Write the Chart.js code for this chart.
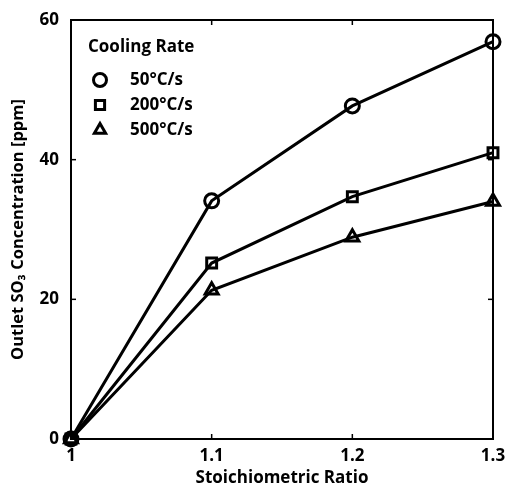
<!DOCTYPE html>
<html>
<head>
<meta charset="utf-8">
<script src="https://cdn.jsdelivr.net/npm/chart.js@4"></script>
<style>
  html, body { margin: 0; padding: 0; background: #fff; }
  #wrap { width: 508px; height: 494px; }
</style>
</head>
<body>
<div id="wrap"><canvas id="c"></canvas></div>
<script>
// data
const ratios = [1.0, 1.1, 1.2, 1.3];
const rate50 = [0, 34.1, 47.7, 56.9];
const rate200 = [0, 25.2, 34.7, 41.0];
const rate500 = [0, 21.3, 28.9, 34.0];
const xTicks = [1, 1.1, 1.2, 1.3];
const yTicks = [0, 20, 40, 60];

const FONT = "'Open Sans', 'Noto Sans', sans-serif";

function pts(ys) {
  return ratios.map((x, i) => ({ x: x, y: ys[i] }));
}

// frame, inward ticks and legend inside the plot
const framePlugin = {
  id: "frame",
  afterDraw(chart) {
    const { ctx, chartArea: a, scales } = chart;
    ctx.save();
    ctx.strokeStyle = "#000";
    ctx.lineWidth = 2;
    ctx.strokeRect(a.left, a.top, a.right - a.left, a.bottom - a.top);
    ctx.lineWidth = 1.5;
    xTicks.forEach(v => {
      const px = scales.x.getPixelForValue(v);
      ctx.beginPath(); ctx.moveTo(px, a.bottom); ctx.lineTo(px, a.bottom - 5); ctx.stroke();
      ctx.beginPath(); ctx.moveTo(px, a.top); ctx.lineTo(px, a.top + 5); ctx.stroke();
    });
    yTicks.forEach(v => {
      const py = scales.y.getPixelForValue(v);
      ctx.beginPath(); ctx.moveTo(a.left, py); ctx.lineTo(a.left + 5, py); ctx.stroke();
      ctx.beginPath(); ctx.moveTo(a.right, py); ctx.lineTo(a.right - 5, py); ctx.stroke();
    });

    // legend
    const lx = a.left + 17, ly = a.top + 27;
    ctx.textBaseline = "middle";
    ctx.textAlign = "left";
    ctx.font = "bold 17px " + FONT;
    ctx.fillStyle = "#000";
    ctx.fillText("Cooling Rate", lx, ly);
    chart.data.datasets.forEach((ds, i) => {
      const y = ly + 33 + i * 25;
      ctx.fillStyle = "#fff";
      ctx.strokeStyle = "#000";
      ctx.lineWidth = 3;
      Chart.helpers.drawPoint(ctx, {
        pointStyle: ds.pointStyle, radius: 6.5, borderWidth: 3
      }, lx + 12, y);
      ctx.fillStyle = "#000";
      ctx.fillText(ds.label, lx + 42, y);
    });
    ctx.restore();
  }
};

const common = {
  borderColor: "#000",
  borderWidth: 3,
  pointBorderColor: "#000",
  pointBackgroundColor: "rgba(255,255,255,0)",
  pointBorderWidth: 3,
  pointRadius: 7,
  tension: 0,
  clip: false
};

new Chart(document.getElementById("c"), {
  type: "line",
  data: {
    datasets: [
      { ...common, label: "50°C/s", data: pts(rate50), pointStyle: "circle" },
      { ...common, label: "200°C/s", data: pts(rate200), pointStyle: "rect", pointRadius: 7 },
      { ...common, label: "500°C/s", data: pts(rate500), pointStyle: "triangle", pointRadius: 7.5 }
    ]
  },
  options: {
    responsive: true,
    maintainAspectRatio: false,
    animation: false,
    layout: { padding: { top: 20, right: 15, left: 4, bottom: 2 } },
    plugins: { legend: { display: false }, tooltip: { enabled: false } },
    scales: {
      x: {
        type: "linear",
        min: 1, max: 1.3,
        afterBuildTicks: s => { s.ticks = xTicks.map(v => ({ value: v })); },
        afterFit: s => { s.height = 53; s.paddingLeft = 0; s.paddingRight = 0; },
        grid: { display: false, drawTicks: false },
        border: { display: false },
        ticks: {
          color: "#000", padding: 7,
          font: { family: FONT, size: 17, weight: "bold" },
          callback: v => String(v)
        },
        title: {
          display: true, text: "Stoichiometric Ratio", color: "#000", padding: { top: 0 },
          font: { family: FONT, size: 17, weight: "bold" }
        }
      },
      y: {
        min: 0, max: 60,
        afterBuildTicks: s => { s.ticks = yTicks.map(v => ({ value: v })); },
        afterFit: s => { s.width = 67; s.paddingTop = 0; s.paddingBottom = 0; },
        grid: { display: false, drawTicks: false },
        border: { display: false },
        ticks: {
          color: "#000", padding: 12,
          font: { family: FONT, size: 17, weight: "bold" }
        },
        title: {
          display: true, text: "Outlet SO₃ Concentration [ppm]", color: "#000", padding: { bottom: 0 },
          font: { family: FONT, size: 16.5, weight: "bold" }
        }
      }
    }
  },
  plugins: [framePlugin]
});
</script>
</body>
</html>
